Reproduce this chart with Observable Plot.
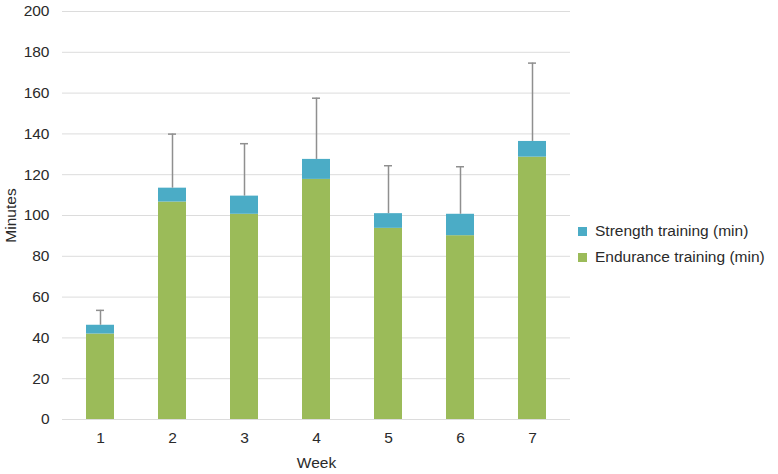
<!DOCTYPE html>
<html><head><meta charset="utf-8">
<script src="https://cdn.jsdelivr.net/npm/d3@7"></script>
<script src="https://cdn.jsdelivr.net/npm/@observablehq/plot@0.6"></script>
<style>
body{margin:0;background:#fff;font-family:"Liberation Sans",Arial,Helvetica,sans-serif}
#wrap{position:relative;width:778px;height:474px}
#legend{position:absolute;left:578px;top:218px;font-size:15.5px;color:#2a2a2a}
.item{display:flex;align-items:center;height:26px;white-space:nowrap}
.sw{width:9px;height:9px;margin-right:8px}
</style></head><body><div id="wrap"><div id="legend"></div></div>
<script>
const weeks = ["1","2","3","4","5","6","7"];
const endurance = [41.9,106.6,100.6,117.7,93.7,90.1,128.6];
const strength = [4.3,6.8,8.9,9.8,7.2,10.5,7.7];
const errorTop = [53.5,139.9,135.2,157.5,124.4,123.9,174.7];
const seriesNames = ["Endurance training (min)","Strength training (min)"];
const seriesColors = ["#9bbb59","#4bacc6"];
const legendOrder = ["Strength training (min)","Endurance training (min)"];
const yTicks = [0,20,40,60,80,100,120,140,160,180,200];

const rows = [];
weeks.forEach((w,i)=>{
  rows.push({week:w, series:seriesNames[0], value:endurance[i], order:0});
  rows.push({week:w, series:seriesNames[1], value:strength[i], order:1});
});
const errs = weeks.map((w,i)=>({week:w, total:endurance[i]+strength[i], top:errorTop[i]}));

const chart = Plot.plot({
  width:778, height:474,
  marginLeft:62, marginRight:208, marginTop:11, marginBottom:55,
  style:{fontFamily:'"Liberation Sans",Arial,Helvetica,sans-serif', fontSize:"15.5px", color:"#2a2a2a", background:"#fff"},
  x:{domain:weeks, paddingInner:0.614, paddingOuter:0.307, align:0.5},
  y:{domain:[0,200]},
  color:{domain:seriesNames, range:seriesColors},
  marks:[
    Plot.gridY(yTicks,{stroke:"#dcdcdc", strokeOpacity:1, strokeWidth:1}),
    Plot.axisY({ticks:yTicks, tickSize:0, tickPadding:13, label:"Minutes", labelArrow:false, labelAnchor:"center", labelOffset:58, fontSize:15.5}),
    Plot.axisX({tickSize:0, tickPadding:12, label:"Week", labelArrow:false, labelAnchor:"center", labelOffset:48, fontSize:15.5}),
    Plot.barY(rows, Plot.stackY({x:"week", y:"value", fill:"series", order:"order"})),
    Plot.ruleX(errs,{x:"week", y1:"total", y2:"top", stroke:"#8f8f8f", strokeWidth:1.5}),
    Plot.tickY(errs,{x:"week", y:"top", stroke:"#8f8f8f", strokeWidth:1.5, insetLeft:10, insetRight:10})
  ]
});
document.getElementById("wrap").prepend(chart);
const lg = document.getElementById("legend");
legendOrder.forEach(name=>{
  const d = document.createElement("div"); d.className="item";
  const s = document.createElement("span"); s.className="sw";
  s.style.background = seriesColors[seriesNames.indexOf(name)];
  const t = document.createElement("span"); t.textContent = name;
  d.append(s,t); lg.append(d);
});
</script></body></html>
